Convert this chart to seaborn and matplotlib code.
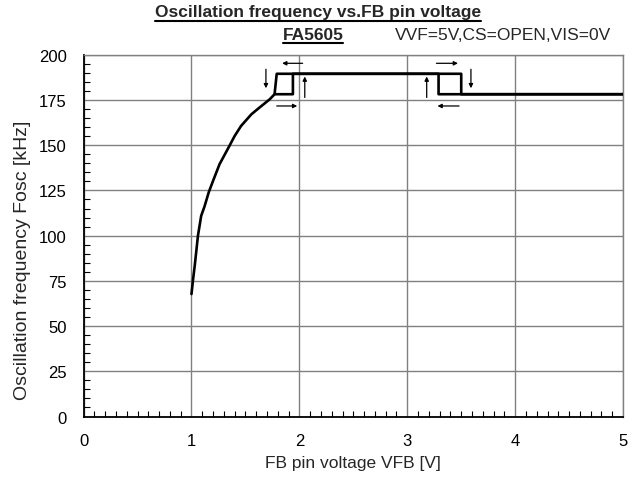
import matplotlib
matplotlib.use("Agg")
import matplotlib.pyplot as plt
import seaborn as sns
import pandas as pd
import numpy as np
from matplotlib.lines import Line2D
from matplotlib.ticker import MultipleLocator

sns.set_theme(style="white")
plt.rcParams['font.family'] = ['Liberation Sans', 'DejaVu Sans']

# Forward sweep (increasing VFB)
up_x = [1.00, 1.015, 1.03, 1.06, 1.09, 1.12, 1.16, 1.20, 1.26, 1.355, 1.40, 1.46, 1.555, 1.63, 1.725, 1.77,
        1.94, 1.94, 3.50, 3.50, 5.00]
up_y = [67.7, 76.0, 83.3, 100.0, 111.0, 116.0, 124.0, 130.3, 139.5, 150.0, 155.1, 160.7, 167.1, 170.8, 175.4, 178.2,
        178.2, 189.5, 189.5, 178.2, 178.2]
# Reverse sweep (decreasing VFB)
down_x = [5.00, 3.29, 3.29, 1.79, 1.77]
down_y = [178.2, 178.2, 189.5, 189.5, 178.2]

# Direction arrows: (x_start, y_start, x_end, y_end)
arrows = [
    (1.69, 192.0, 1.69, 181.5),
    (2.03, 195.3, 1.84, 195.3),
    (2.05, 176.4, 2.05, 188.0),
    (1.79, 171.7, 1.98, 171.7),
    (3.27, 195.3, 3.47, 195.3),
    (3.59, 192.0, 3.59, 181.5),
    (3.18, 176.4, 3.18, 188.0),
    (3.48, 171.7, 3.28, 171.7),
]

title = "Oscillation frequency vs.FB pin voltage"
subtitle = "FA5605"
cond = "VVF=5V,CS=OPEN,VIS=0V"
xlabel = "FB pin voltage VFB [V]"
ylabel = "Oscillation frequency Fosc [kHz]"

fig = plt.figure(figsize=(6.43, 4.81), dpi=100)
ax = fig.add_axes([0.130, 0.132, 0.839, 0.752])

df_up = pd.DataFrame({"x": up_x, "y": up_y})
df_dn = pd.DataFrame({"x": down_x, "y": down_y})
sns.lineplot(data=df_up, x="x", y="y", sort=False, estimator=None, color="black", lw=1.9, ax=ax, zorder=5)
sns.lineplot(data=df_dn, x="x", y="y", sort=False, estimator=None, color="black", lw=1.9, ax=ax, zorder=5)

for (x0, y0, x1, y1) in arrows:
    ax.annotate("", xy=(x1, y1), xytext=(x0, y0),
                arrowprops=dict(arrowstyle="-|>", color="black", lw=0.9,
                                mutation_scale=6, shrinkA=0, shrinkB=0), zorder=6)

ax.set_xlim(0, 5)
ax.set_ylim(0, 200)
ax.xaxis.set_major_locator(MultipleLocator(1))
ax.xaxis.set_minor_locator(MultipleLocator(0.1))
ax.yaxis.set_major_locator(MultipleLocator(25))
ax.yaxis.set_minor_locator(MultipleLocator(5))
ax.grid(True, which="major", color="#808080", lw=1.0)
ax.tick_params(which="major", direction="in", length=0, labelsize=12, pad=12, colors="black")
ax.tick_params(which="minor", direction="in", length=4, width=0.8, color="black",
               bottom=True, left=True, top=False, right=False)
ax.set_xlabel(xlabel, fontsize=12.5, labelpad=5)
ax.set_ylabel(ylabel, fontsize=14)
ax.yaxis.set_label_coords(-0.098, 0.434)
for s in ["left", "bottom"]:
    ax.spines[s].set_color("black")
    ax.spines[s].set_linewidth(1.3)
for s in ["top", "right"]:
    ax.spines[s].set_color("#808080")
    ax.spines[s].set_linewidth(1.0)

t1 = fig.text(318/643, 1 - 13/481, title, ha="center", va="center", fontsize=12.5, fontweight="bold")
t2 = fig.text(313/643, 1 - 35/481, subtitle, ha="center", va="center", fontsize=12.5, fontweight="bold")
fig.text(395/643, 1 - 36/481, cond, ha="left", va="center", fontsize=12.5)

fig.canvas.draw()
r = fig.canvas.get_renderer()
for t in (t1, t2):
    bb = t.get_window_extent(r)
    y = bb.y0 - 1.0
    fig.add_artist(Line2D([bb.x0 / fig.bbox.width, bb.x1 / fig.bbox.width],
                          [y / fig.bbox.height, y / fig.bbox.height],
                          transform=fig.transFigure, color="black", lw=1.5))

fig.savefig("out.png", dpi=100)
